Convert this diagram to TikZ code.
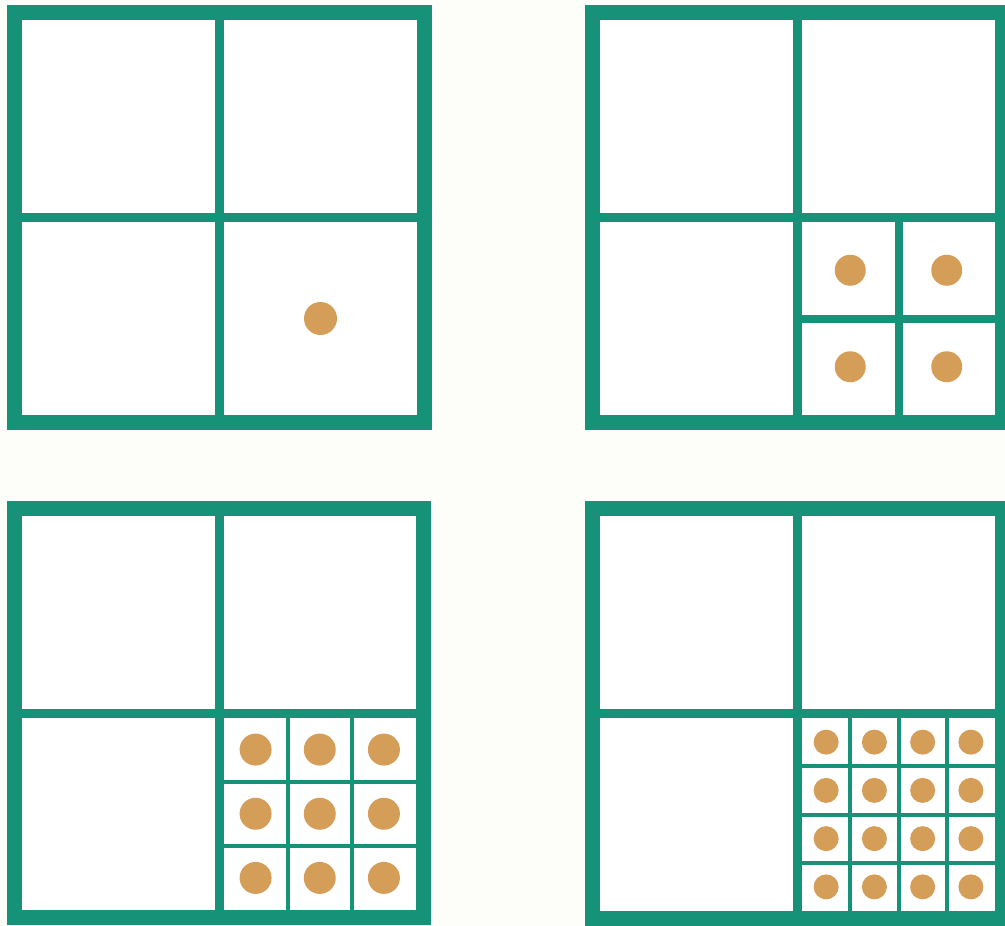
\documentclass[tikz,border=0pt]{standalone}
\definecolor{framegreen}{RGB}{22,146,120}
\definecolor{dotbrown}{RGB}{212,157,88}
\definecolor{paper}{RGB}{253,253,250}
\tikzset{
  frame/.style={draw=framegreen, fill=white, line width=15pt},
  divider/.style={draw=framegreen, line width=9pt},
  subline/.style={draw=framegreen, line width=#1},
  dot/.style={fill=dotbrown},
}
% #1 ox, #2 oy, #3 size, #4 n, #5 dot radius, #6 subline width
\newcommand{\gridpanel}[6]{%
\begin{scope}[shift={(#1,#2)}]
  \pgfmathsetmacro{\hlf}{#3/2}
  \pgfmathsetmacro{\qa}{#3/2+4.5}
  \pgfmathsetmacro{\qb}{#3-15}
  \pgfmathsetmacro{\cw}{(\qb-\qa)/#4}
  \pgfmathsetmacro{\fb}{#3-7.5}
  \draw[frame] (7.5,7.5) rectangle (\fb,\fb);
  \draw[divider] (\hlf,15) -- (\hlf,\qb);
  \draw[divider] (15,\hlf) -- (\qb,\hlf);
  \ifnum#4>1
    \pgfmathtruncatemacro{\nm}{#4-1}
    \foreach \k in {1,...,\nm}{
      \draw[subline=#6] ({\qa+\k*\cw},\qa) -- ({\qa+\k*\cw},\qb);
      \draw[subline=#6] (\qa,{\qa+\k*\cw}) -- (\qb,{\qa+\k*\cw});
    }
  \fi
  \foreach \i in {1,...,#4}{
    \foreach \j in {1,...,#4}{
      \fill[dot] ({\qa+(\i-0.5)*\cw},{\qa+(\j-0.5)*\cw}) circle[radius=#5];
    }
  }
\end{scope}}
\begin{document}
\begin{tikzpicture}[x=1pt,y=-1pt]
  \useasboundingbox (0,0) rectangle (1005,926);
  \fill[paper] (0,0) rectangle (1005,926);
  \begin{scope}
    \clip (0,0) rectangle (1005,926);
    \gridpanel{7}{5}{425}{1}{16.5}{8pt}
    \gridpanel{585}{5}{425}{2}{15.5}{8pt}
    \gridpanel{7}{501}{424}{3}{16}{4pt}
    \gridpanel{585}{501}{425}{4}{12.5}{4pt}
  \end{scope}
\end{tikzpicture}
\end{document}
